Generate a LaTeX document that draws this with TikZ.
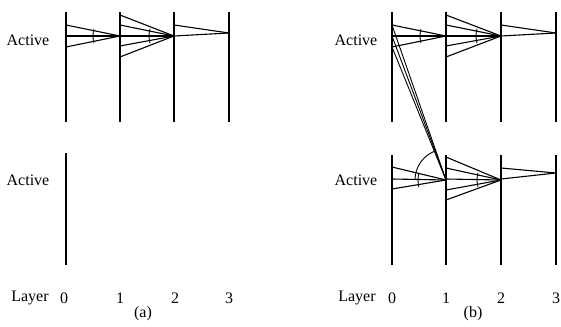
\documentclass[tikz,border=0pt]{standalone}
\usepackage{fontspec}
\setmainfont{Liberation Serif}
\usepackage{tikz}
\usetikzlibrary{calc}

\begin{document}
\begin{tikzpicture}[x=1pt,y=-1pt,
		bar/.style={line width=2.6pt},
		ray/.style={line width=1.1pt},
		link/.style={line width=0.9pt},
		ang/.style={line width=0.9pt},
		lbl/.style={font=\fontsize{16}{18}\selectfont,inner sep=0pt}]
			\useasboundingbox (0,0) rectangle (561,326);
			% panel (a)
			\foreach \n/\x in {0/66,1/120,2/174,3/229} {
				\coordinate (at\n) at (\x,12);
				\coordinate (ab\n) at (\x,122);
				\draw[bar] (at\n) -- (ab\n);
			}
			\coordinate (ct0) at (66,153);
			\coordinate (cb0) at (66,265);
			\draw[bar] (ct0) -- (cb0);
			\coordinate (af1) at (120,36);
			\coordinate (af2) at (174,36);
			\coordinate (af3) at (229,33);
			\foreach \y in {25,36,47} {
				\coordinate (as) at (66,\y);
				\draw[ray] (as) -- (af1);
			}
			\foreach \y in {15,25,36,46,57} {
				\coordinate (as) at (120,\y);
				\draw[ray] (as) -- (af2);
			}
			\foreach \y in {25,36} {
				\coordinate (as) at (174,\y);
				\draw[ray] (as) -- (af3);
			}
			\draw[ang] ($(af1)+(165:27)$) arc[start angle=165,end angle=195,radius=27];
			\draw[ang] ($(af2)+(163:25)$) arc[start angle=163,end angle=197,radius=25];
			% panel (b)
			\foreach \n/\x in {0/392,1/446,2/501,3/556} {
				\coordinate (bt\n) at (\x,12);
				\coordinate (bb\n) at (\x,122);
				\draw[bar] (bt\n) -- (bb\n);
				\coordinate (dt\n) at (\x,155);
				\coordinate (db\n) at (\x,265);
				\draw[bar] (dt\n) -- (db\n);
			}
			\coordinate (bf1) at (446,36);
			\coordinate (bf2) at (501,36);
			\coordinate (bf3) at (556,33);
			\coordinate (df1) at (446,180);
			\coordinate (df2) at (501,180);
			\coordinate (df3) at (556,173);
			\foreach \y in {25,36,47} {
				\coordinate (bs) at (392,\y);
				\draw[ray] (bs) -- (bf1);
				\draw[link] (bs) -- (df1);
			}
			\foreach \y in {15,25,36,46,57} {
				\coordinate (bs) at (446,\y);
				\draw[ray] (bs) -- (bf2);
			}
			\foreach \y in {25,36} {
				\coordinate (bs) at (501,\y);
				\draw[ray] (bs) -- (bf3);
			}
			\foreach \y in {167,179,189} {
				\coordinate (ds) at (392,\y);
				\draw[ray] (ds) -- (df1);
			}
			\foreach \y in {157,168,179,190,200} {
				\coordinate (ds) at (446,\y);
				\draw[ray] (ds) -- (df2);
			}
			\foreach \y in {168,179} {
				\coordinate (ds) at (501,\y);
				\draw[ray] (ds) -- (df3);
			}
			\draw[ang] ($(bf1)+(165:26)$) arc[start angle=165,end angle=195,radius=26];
			\draw[ang] ($(bf2)+(163:25)$) arc[start angle=163,end angle=197,radius=25];
			\draw[ang] ($(df1)+(165:28)$) arc[start angle=165,end angle=195,radius=28];
			\draw[ang] ($(df2)+(163:24)$) arc[start angle=163,end angle=197,radius=24];
			\draw[ang] ($(df1)+(180:31)$) arc[start angle=180,end angle=250,radius=31];
			% labels
			\node[lbl] (act1) at (28,40) {Active};
			\node[lbl] (act2) at (28,180) {Active};
			\node[lbl] (act3) at (356,40) {Active};
			\node[lbl] (act4) at (356,180) {Active};
			\node[lbl] (lay1) at (30,298) {Layer};
			\node[lbl] (lay2) at (357,298) {Layer};
			\foreach \n/\x in {0/64,1/120,2/175,3/229}
				\node[lbl] (an\n) at (\x,298) {\n};
			\foreach \n/\x in {0/392,1/446,2/501,3/556}
				\node[lbl] (bn\n) at (\x,298) {\n};
			\node[lbl] (capa) at (143,314) {(a)};
			\node[lbl] (capb) at (473,314) {(b)};
		\end{tikzpicture}
\end{document}
